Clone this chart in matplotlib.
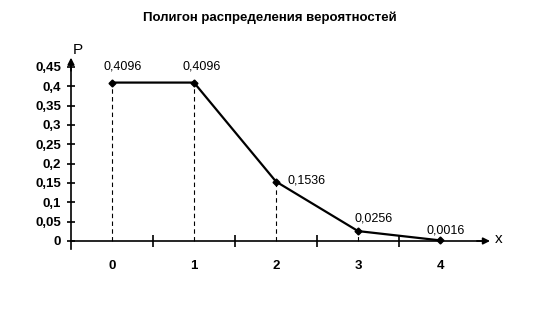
import matplotlib.pyplot as plt

plt.rcParams['font.family'] = ['Liberation Sans', 'DejaVu Sans']

# data
xs = [0, 1, 2, 3, 4]
probs = [0.4096, 0.4096, 0.1536, 0.0256, 0.0016]
point_labels = ['0,4096', '0,4096', '0,1536', '0,0256', '0,0016']
y_ticks = [0, 0.05, 0.1, 0.15, 0.2, 0.25, 0.3, 0.35, 0.4, 0.45]
y_ticklabels = ['0', '0,05', '0,1', '0,15', '0,2', '0,25', '0,3', '0,35', '0,4', '0,45']
# label offsets in pixels (dx, dy) relative to each point
label_offsets = [(-8, 10), (-12, 10), (11, -5), (-4, 7), (-14, 4)]

fig = plt.figure(figsize=(5.33, 3.09), dpi=100)
ax = fig.add_axes([0.1332, 0.1951, 0.8308, 0.6508])
ax.set_xlim(-0.5, 4.9)
ax.set_ylim(-0.02, 0.5)

for s in ['top', 'right']:
    ax.spines[s].set_visible(False)
ax.spines['left'].set_position(('data', -0.5))
ax.spines['left'].set_bounds(-0.02, 0.45)
ax.spines['bottom'].set_position(('data', 0))
ax.spines['bottom'].set_bounds(-0.5, 4.5)
for s in ['left', 'bottom']:
    ax.spines[s].set_linewidth(1.2)

# axis arrows
ax.annotate('', xy=(-0.5, 0.474), xytext=(-0.5, 0.44),
            arrowprops=dict(arrowstyle='-|>', color='black', lw=1.2,
                            mutation_scale=10, shrinkA=0, shrinkB=0))
ax.annotate('', xy=(4.61, 0), xytext=(4.45, 0),
            arrowprops=dict(arrowstyle='-|>', color='black', lw=1.2,
                            mutation_scale=10, shrinkA=0, shrinkB=0))
ax.text(-0.42, 0.495, 'P', fontsize=11, ha='center', va='center')
ax.text(4.72, 0.006, 'x', fontsize=11, ha='center', va='center')

ax.set_yticks(y_ticks)
ax.set_yticklabels(y_ticklabels, fontweight='bold', fontsize=9.5)
ax.tick_params(axis='y', direction='inout', length=6, width=1.2, pad=4)

ax.set_xticks(xs)
ax.set_xticklabels([str(x) for x in xs], fontweight='bold', fontsize=9.5)
ax.set_xticks([0.5, 1.5, 2.5, 3.5], minor=True)
ax.tick_params(axis='x', which='major', length=0, pad=14)
ax.tick_params(axis='x', which='minor', direction='inout', length=8, width=1.2)

ax.vlines(xs, 0, probs, colors='black', linestyles=(0, (4, 3)), linewidth=0.8)
ax.plot(xs, probs, color='black', linewidth=1.6, marker='D', markersize=3.5,
        clip_on=False, zorder=3)

for x, p, lab, (dx, dy) in zip(xs, probs, point_labels, label_offsets):
    ax.annotate(lab, (x, p), xytext=(dx, dy), textcoords='offset pixels',
                fontsize=9, ha='left', va='bottom')

fig.text(0.507, 1 - 18 / 309, 'Полигон распределения вероятностей',
         fontsize=9.5, fontweight='bold', ha='center', va='center')

fig.savefig('out.png', dpi=100)
